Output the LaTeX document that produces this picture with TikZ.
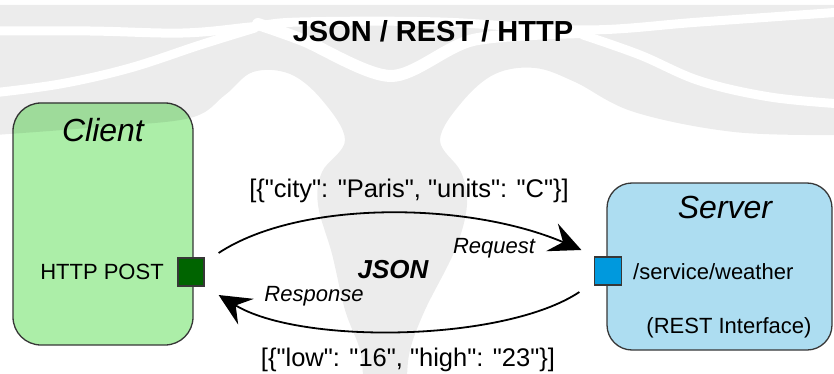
\documentclass[tikz,border=0pt]{standalone}
\usepackage{fontspec}
\setmainfont{Liberation Sans}[Ligatures=TeXOff]
\usetikzlibrary{arrows.meta}

\definecolor{wmgray}{RGB}{236,236,236}
\definecolor{clientfill}{RGB}{172,238,168}
\definecolor{serverfill}{RGB}{173,221,241}
\definecolor{cportfill}{RGB}{0,100,0}
\definecolor{sportfill}{RGB}{0,153,221}
\definecolor{edgegray}{RGB}{55,55,55}

% outline of the faint background emblem
\newcommand\wmshape{(-5,5) -- (839,5) -- (839,135)
  -- plot[smooth,tension=0.6] coordinates {(839,135) (734,132) (634,112) (575,82) (535,68) (495,74) (462,102) (440,140) (461,172) (467,205) (455,250) (425,310) (410,350) (407,380)}
  -- (363,380)
  -- plot[smooth,tension=0.6] coordinates {(363,380) (360,350) (345,310) (332,254) (318,205) (322,172) (345,140) (322,100) (290,74) (253,72) (225,95) (190,118) (100,127) (-5,135)}
  -- cycle}

\tikzset{
  box/.style={draw=edgegray, line width=1.3pt, rectangle, inner sep=0pt},
  port/.style={draw=edgegray, line width=1.2pt, rectangle, inner sep=0pt},
  flow/.style={line width=1.8pt, -{Stealth[length=32pt, width=30pt, inset=12pt]}},
  lbl/.style={inner sep=0pt, font=\fontsize{22}{26}\selectfont},
  data/.style={inner sep=0pt, font=\fontsize{25.5}{30}\selectfont},
  head/.style={inner sep=0pt, font=\fontsize{32}{38}\selectfont\itshape},
  stripe/.style={draw=white, line width=9pt, line cap=round}
}

\begin{document}
\begin{tikzpicture}[x=1pt, y=-1pt]
\useasboundingbox (0,0) rectangle (834,374);

% background emblem
\fill[wmgray] \wmshape;
\draw[stripe] plot[smooth,tension=0.6] coordinates {(-8,31) (90,31) (183,33) (250,27) (300,22) (440,22) (583,30) (700,22) (842,12)};
\draw[stripe] plot[smooth,tension=0.6] coordinates {(-8,93) (60,84) (130,68) (200,45) (255,28)};
\draw[stripe, line width=12pt] plot[smooth,tension=0.5] coordinates {(258,24) (303,40) (391,76) (473,40) (583,32)};
\draw[stripe] plot[smooth,tension=0.6] coordinates {(583,35) (640,55) (700,81) (770,97) (842,104)};

% title
\node[inner sep=0pt, font=\fontsize{29}{33}\selectfont\bfseries] (title) at (433,31) {JSON / REST / HTTP};

% client
\node[box, fill=clientfill, minimum width=180pt, minimum height=242pt, rounded corners=28pt] (client) at (103,224) {};
\begin{scope}
  \clip[rounded corners=28pt] (client.south west) rectangle (client.north east);
  \fill[black, opacity=0.08] \wmshape;
\end{scope}
\node[head] (clientname) at (103,130) {Client};
\node[lbl] (post) at (102,272) {HTTP POST};
\node[port, fill=cportfill, minimum width=26pt, minimum height=28pt] (cport) at (191,272) {};

% server
\node[box, fill=serverfill, minimum width=225pt, minimum height=167pt, rounded corners=25pt] (server) at (719.5,266.5) {};
\node[head] (servername) at (725,207) {Server};
\node[lbl, anchor=west] (path) at (633,272) {/service/weather};
\node[lbl] (iface) at (729,328) {(REST Interface)};
\node[port, fill=sportfill, minimum width=27pt, minimum height=28pt] (sport) at (608,271) {};

% request and response
\draw[flow] ([shift={(14,-19)}]cport.east) .. controls +(82,-54) and +(-112,-48) .. ([shift={(-12.5,-21)}]sport.west);
\draw[flow] ([shift={(-14.5,21)}]sport.west) .. controls +(-75,50) and +(82,50) .. ([shift={(14,23)}]cport.east);

\node[data] (reqdata) at (409,191) {[\{"city": "Paris", "units": "C"\}]};
\node[data] (resdata) at (408,360) {[\{"low": "16", "high": "23"\}]};
\node[inner sep=0pt, font=\fontsize{26}{30}\selectfont\bfseries\itshape] (json) at (393,270) {JSON};
\node[lbl, font=\fontsize{22}{26}\selectfont\itshape] (req) at (494,248) {Request};
\node[lbl, font=\fontsize{22}{26}\selectfont\itshape] (res) at (314,296) {Response};
\end{tikzpicture}
\end{document}
